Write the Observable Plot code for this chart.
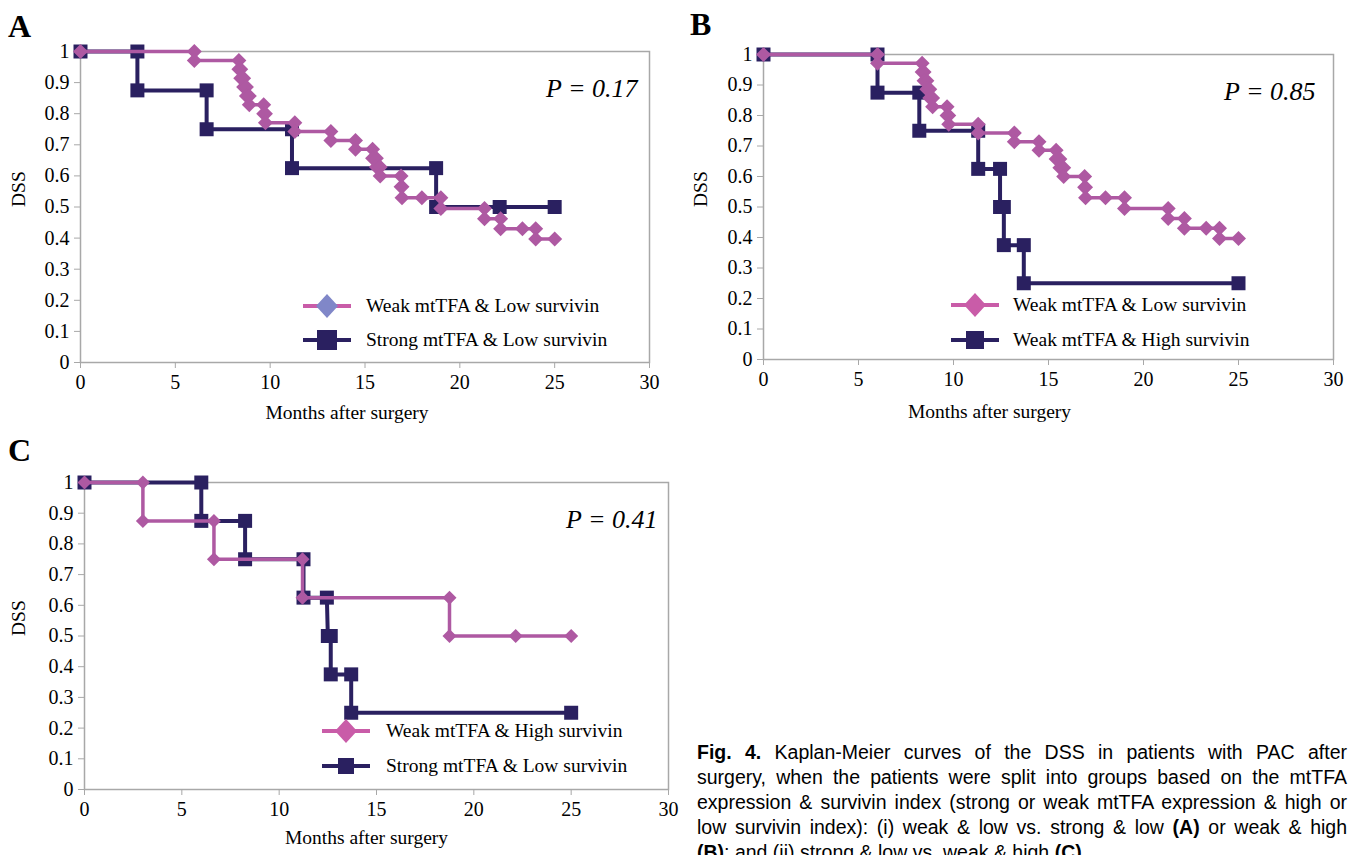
<!DOCTYPE html>
<html><head><meta charset="utf-8">
<script src="https://cdn.jsdelivr.net/npm/d3@7"></script>
<script src="https://cdn.jsdelivr.net/npm/@observablehq/plot@0.6"></script>
<style>
html,body{margin:0;padding:0;background:#fff;overflow:hidden;}
#page{position:relative;width:1357px;height:855px;overflow:hidden;font-family:"Liberation Serif","Times New Roman",serif;color:#000;background:#fff;}
.panel{position:absolute;}
.letter{position:absolute;font-weight:bold;font-size:32px;line-height:32px;}
.leg{position:absolute;display:flex;align-items:center;font-size:19.5px;white-space:nowrap;height:26px;}
.leg svg{display:block;}
.cap{position:absolute;left:697px;width:650px;font-family:"Liberation Sans",Arial,sans-serif;font-size:19.5px;line-height:25px;text-align:justify;text-align-last:justify;}
.cap.last{text-align-last:left;}
</style>
</head>
<body>
<div id="page"></div>
<script>
// ---------- data ----------
const xTicks = [0, 5, 10, 15, 20, 25, 30];
const xTickLabels = ["0", "5", "10", "15", "20", "25", "30"];
const yTicks = [0, 0.1, 0.2, 0.3, 0.4, 0.5, 0.6, 0.7, 0.8, 0.9, 1];
const yTickLabels = ["0", "0.1", "0.2", "0.3", "0.4", "0.5", "0.6", "0.7", "0.8", "0.9", "1"];

// Weak mtTFA & Low survivin (panels A, B): corner points of the step curve
const weakLowMonths = [0, 6.0, 6.0, 8.35, 8.35, 8.45, 8.45, 8.6, 8.6, 8.75, 8.75, 8.9, 8.9, 9.66, 9.66, 9.75, 9.75, 11.3, 11.3, 13.2, 13.2, 14.5, 14.5, 15.4, 15.4, 15.6, 15.6, 15.8, 15.8, 16.9, 16.9, 16.95, 16.95, 18.0, 19.0, 19.0, 21.3, 21.3, 22.15, 22.15, 23.3, 24.0, 24.0, 25.0];
const weakLowDSS = [1, 1, 0.971, 0.971, 0.943, 0.943, 0.914, 0.914, 0.886, 0.886, 0.857, 0.857, 0.829, 0.829, 0.8, 0.8, 0.771, 0.771, 0.743, 0.743, 0.714, 0.714, 0.686, 0.686, 0.657, 0.657, 0.629, 0.629, 0.6, 0.6, 0.565, 0.565, 0.53, 0.53, 0.53, 0.495, 0.495, 0.462, 0.462, 0.43, 0.43, 0.43, 0.397, 0.397];

// Strong mtTFA & Low survivin (panel A)
const strongLowMonths = [0, 3.0, 3.0, 6.65, 6.65, 11.15, 11.15, 18.75, 18.75, 22.1, 25.0];
const strongLowDSS = [1, 1, 0.875, 0.875, 0.75, 0.75, 0.625, 0.625, 0.5, 0.5, 0.5];

// Weak mtTFA & High survivin (panel B)
const weakHighMonths = [0, 6.0, 6.0, 8.2, 8.2, 11.3, 11.3, 12.45, 12.45, 12.65, 12.65, 13.7, 13.7, 25.0];
const weakHighDSS = [1, 1, 0.875, 0.875, 0.75, 0.75, 0.625, 0.625, 0.5, 0.5, 0.375, 0.375, 0.25, 0.25];

// Panel C (as drawn)
const cPinkMonths = [0, 3.0, 3.0, 6.65, 6.65, 11.2, 11.2, 18.75, 18.75, 22.15, 25.0];
const cPinkDSS = [1, 1, 0.875, 0.875, 0.75, 0.75, 0.625, 0.625, 0.5, 0.5, 0.5];
const cNavyMonths = [0, 6.0, 6.0, 8.25, 8.25, 11.25, 11.25, 12.45, 12.5, 12.65, 12.65, 13.7, 13.7, 25.0];
const cNavyDSS = [1, 1, 0.875, 0.875, 0.75, 0.75, 0.625, 0.625, 0.5, 0.5, 0.375, 0.375, 0.25, 0.25];

const pValues = ["P = 0.17", "P = 0.85", "P = 0.41"];
const panelLetters = ["A", "B", "C"];
const legendA = ["Weak mtTFA & Low survivin", "Strong mtTFA & Low survivin"];
const legendB = ["Weak mtTFA & Low survivin", "Weak mtTFA & High survivin"];
const legendC = ["Weak mtTFA & High survivin", "Strong mtTFA & Low survivin"];
const xTitle = "Months after surgery";
const yTitle = "DSS";
const captionLines = [
  "<b>Fig. 4.</b> Kaplan-Meier curves of the DSS in patients with PAC after",
  "surgery, when the patients were split into groups based on the mtTFA",
  "expression &amp; survivin index (strong or weak mtTFA expression &amp; high or",
  "low survivin index): (i) weak &amp; low vs. strong &amp; low <b>(A)</b> or weak &amp; high",
  "<b>(B)</b>; and (ii) strong &amp; low vs. weak &amp; high <b>(C)</b>."
];

// ---------- styles ----------
const PINK = "#AE59A2";
const NAVY = "#2A2060";
const LEG_PINK = "#C95CA8";
const LAVENDER = "#8087C8";
const FRAME = "#A8A8A8";

const diamondSym = {draw(ctx, size) { const r = Math.sqrt(size / Math.PI); ctx.moveTo(0, -r); ctx.lineTo(r, 0); ctx.lineTo(0, r); ctx.lineTo(-r, 0); ctx.closePath(); }};
const squareSym = {draw(ctx, size) { const r = Math.sqrt(size / Math.PI); ctx.moveTo(-r, -r); ctx.lineTo(r, -r); ctx.lineTo(r, r); ctx.lineTo(-r, r); ctx.closePath(); }};

const rows = (months, dss) => months.map((m, i) => ({month: m, dss: dss[i]}));
const page = document.getElementById("page");

function drawPanel(cfg) {
  const marks = [
    Plot.frame({stroke: FRAME, strokeWidth: 1.5}),
    Plot.axisX({ticks: xTicks, tickSize: 6, tickPadding: 6, tickFormat: d => xTickLabels[xTicks.indexOf(d)], stroke: FRAME, fill: "#000", label: null, fontSize: 20}),
    Plot.axisY({ticks: yTicks, tickSize: 6, tickPadding: 5, tickFormat: d => yTickLabels[yTicks.indexOf(d)], stroke: FRAME, fill: "#000", label: null, fontSize: 20}),
    Plot.text([yTitle], {text: d => d, frameAnchor: "left", dx: cfg.yTitleDx, rotate: -90, fontSize: 19.5}),
    Plot.text([xTitle], {text: d => d, frameAnchor: "bottom", dx: cfg.xTitleDx, dy: cfg.xTitleDy, fontSize: 19.5}),
    Plot.text([cfg.p], {text: d => d, frameAnchor: "top-right", dx: cfg.pDx, dy: 27, fontSize: 26, fontStyle: "italic", textAnchor: "end"})
  ];
  for (const s of cfg.series) {
    const data = rows(s.months, s.dss);
    marks.push(Plot.line(data, {x: "month", y: "dss", stroke: s.color, strokeWidth: s.width}));
    marks.push(Plot.dot(data, {x: "month", y: "dss", symbol: s.symbol, r: s.r, fill: s.color, stroke: "none"}));
  }
  const svg = Plot.plot({
    width: cfg.width, height: cfg.height,
    marginLeft: cfg.ml, marginTop: cfg.mt, marginRight: cfg.mr, marginBottom: cfg.mb,
    style: {fontFamily: "'Liberation Serif', 'Times New Roman', serif", fontSize: "20px", color: "#000", background: "transparent", overflow: "visible"},
    x: {domain: [0, 30]},
    y: {domain: [0, 1]},
    marks
  });
  const div = document.createElement("div");
  div.className = "panel";
  div.style.left = cfg.left + "px";
  div.style.top = cfg.top + "px";
  div.appendChild(svg);
  page.appendChild(div);
}

function legend(x, y, textX, label, lineColor, markerColor, shape, msize) {
  const d = document.createElement("div");
  d.className = "leg";
  d.style.left = x + "px";
  d.style.top = (y - 13) + "px";
  const h = msize / 2;
  const marker = shape === "diamond"
    ? `<path d="M24 ${13 - h - 1} L${24 + h} 13 L24 ${13 + h + 1} L${24 - h} 13 Z" fill="${markerColor}"/>`
    : `<rect x="${24 - h}" y="${13 - h}" width="${msize}" height="${msize}" fill="${markerColor}"/>`;
  d.innerHTML = `<svg width="48" height="26"><line x1="0" x2="48" y1="13" y2="13" stroke="${lineColor}" stroke-width="4"/>${marker}</svg><span style="margin-left:${textX - x - 48}px">${label.replace(/&/g, "&amp;")}</span>`;
  page.appendChild(d);
}

// Panel A
drawPanel({left: 0, top: 0, width: 680, height: 440, ml: 80, mt: 51, mr: 31, mb: 78, yTitleDx: -62, xTitleDx: -18, xTitleDy: 56, pDx: -12, p: pValues[0],
  series: [
    {months: strongLowMonths, dss: strongLowDSS, color: NAVY, width: 4, symbol: squareSym, r: 7},
    {months: weakLowMonths, dss: weakLowDSS, color: PINK, width: 3.5, symbol: diamondSym, r: 7.5}
  ]});
// Panel B
drawPanel({left: 680, top: 0, width: 677, height: 440, ml: 83, mt: 54, mr: 24, mb: 81, yTitleDx: -63, xTitleDx: -59, xTitleDy: 58, pDx: -18, p: pValues[1],
  series: [
    {months: weakHighMonths, dss: weakHighDSS, color: NAVY, width: 4, symbol: squareSym, r: 7},
    {months: weakLowMonths, dss: weakLowDSS, color: PINK, width: 3.5, symbol: diamondSym, r: 7.5}
  ]});
// Panel C
drawPanel({left: 0, top: 440, width: 690, height: 415, ml: 84, mt: 42, mr: 22, mb: 66, yTitleDx: -66, xTitleDx: -10, xTitleDy: 54, pDx: -11, p: pValues[2],
  series: [
    {months: cNavyMonths, dss: cNavyDSS, color: NAVY, width: 4, symbol: squareSym, r: 7},
    {months: cPinkMonths, dss: cPinkDSS, color: PINK, width: 3.5, symbol: diamondSym, r: 7}
  ]});

// Legends
legend(303, 306, 366, legendA[0], LEG_PINK, LAVENDER, "diamond", 22);
legend(303, 340, 366, legendA[1], NAVY, NAVY, "square", 20);
legend(951, 305, 1013, legendB[0], LEG_PINK, LEG_PINK, "diamond", 22);
legend(951, 340, 1013, legendB[1], NAVY, NAVY, "square", 18);
legend(322, 731, 386, legendC[0], LEG_PINK, LEG_PINK, "diamond", 22);
legend(322, 766, 386, legendC[1], NAVY, NAVY, "square", 16);

// Panel letters
[[8, 10], [690, 8], [8, 434]].forEach(([x, y], i) => {
  const d = document.createElement("div");
  d.className = "letter";
  d.style.left = x + "px"; d.style.top = y + "px";
  d.textContent = panelLetters[i];
  page.appendChild(d);
});

// Caption
captionLines.forEach((line, i) => {
  const d = document.createElement("div");
  d.className = "cap" + (i === captionLines.length - 1 ? " last" : "");
  d.style.top = (740 + i * 25) + "px";
  d.innerHTML = line;
  page.appendChild(d);
});
</script>
</body></html>
